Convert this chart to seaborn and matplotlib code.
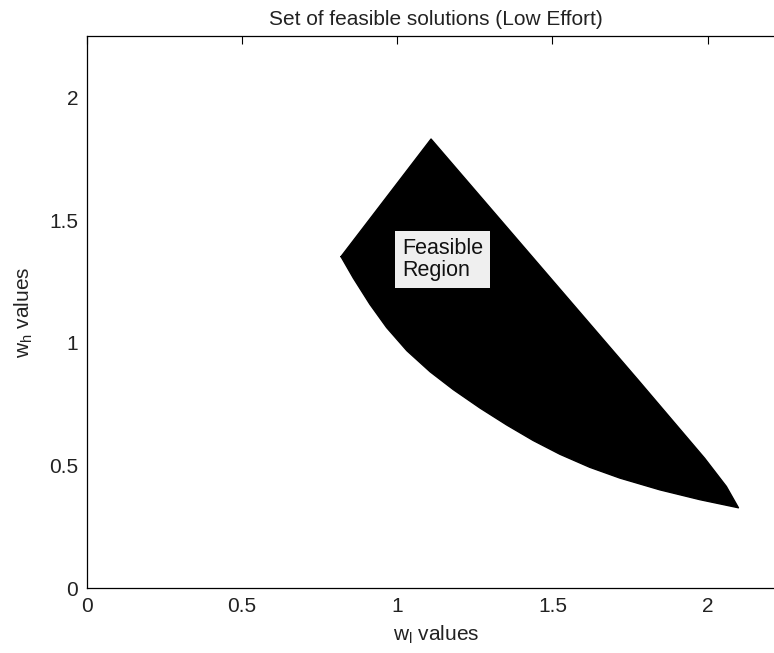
import matplotlib
matplotlib.use("Agg")
import matplotlib.pyplot as plt
import numpy as np
import pandas as pd
import seaborn as sns

# ---- data ----
# upper boundary (left vertex -> top vertex -> right tip)
upper_w_l = [0.819, 1.109, 1.777, 1.990, 2.060, 2.099]
upper_w_h = [1.351, 1.830, 0.847, 0.530, 0.415, 0.328]
# lower boundary (left vertex -> right tip)
lower_w_l = [0.819, 0.859, 0.912, 0.966, 1.031, 1.106, 1.181, 1.267,
             1.353, 1.438, 1.524, 1.620, 1.717, 1.846, 1.975, 2.099]
lower_w_h = [1.351, 1.263, 1.157, 1.062, 0.968, 0.882, 0.809, 0.734,
             0.665, 0.602, 0.546, 0.493, 0.449, 0.401, 0.361, 0.328]

x_ticks = [0, 0.5, 1, 1.5, 2]
y_ticks = [0, 0.5, 1, 1.5, 2]
x_tick_labels = ["0", "0.5", "1", "1.5", "2"]
y_tick_labels = ["0", "0.5", "1", "1.5", "2"]

title = "Set of feasible solutions (Low Effort)"
region_label = "Feasible\nRegion"

# ---- styling ----
sns.set_theme(style="white")
plt.rcParams["font.family"] = ["Liberation Sans", "DejaVu Sans"]
plt.rcParams["mathtext.fontset"] = "custom"
plt.rcParams["mathtext.rm"] = "Liberation Sans"

W, H, DPI = 774, 653, 100
fig = plt.figure(figsize=(W / DPI, H / DPI), dpi=DPI)
fig.patch.set_facecolor("white")

x0_px, y0_px = 86.7, 588.3
ux, uy = 310.5, 245.5
xmax, ymax = 2.25, 2.25
ax = fig.add_axes([x0_px / W, (H - y0_px) / H, xmax * ux / W, ymax * uy / H])
ax.set_facecolor("white")

poly_x = upper_w_l + lower_w_l[::-1]
poly_y = upper_w_h + lower_w_h[::-1]
df = pd.DataFrame({"w_l": poly_x, "w_h": poly_y})

ax.fill(df["w_l"], df["w_h"], color="black", linewidth=0, zorder=2)
sns.lineplot(data=df, x="w_l", y="w_h", sort=False, estimator=None,
             color="black", linewidth=1.0, ax=ax, zorder=3)

FS = 15
ax.text(1.0155, 1.339, region_label, ha="left", va="center", fontsize=15.5,
        color="#111111", linespacing=1.08, zorder=4,
        bbox=dict(facecolor="#efefef", edgecolor="none", pad=5))

ax.set_xlim(0, xmax)
ax.set_ylim(0, ymax)
ax.set_xticks(x_ticks)
ax.set_xticklabels(x_tick_labels)
ax.set_yticks(y_ticks)
ax.set_yticklabels(y_tick_labels)

for s in ax.spines.values():
    s.set_visible(True)
    s.set_color("black")
    s.set_linewidth(0.9)

ax.tick_params(axis="both", which="both", direction="in", length=6, width=0.8,
               color="black", top=True, right=True, labelsize=FS,
               labelcolor="#222222", pad=6)

ax.set_title(title, fontsize=FS, color="#222222", pad=8)
ax.set_xlabel(r"$\mathregular{w_l}$ values", fontsize=FS, color="#222222", labelpad=6)
ax.set_ylabel(r"$\mathregular{w_h}$ values", fontsize=FS, color="#222222", labelpad=10)

fig.savefig("out.png", dpi=DPI, facecolor="white")
